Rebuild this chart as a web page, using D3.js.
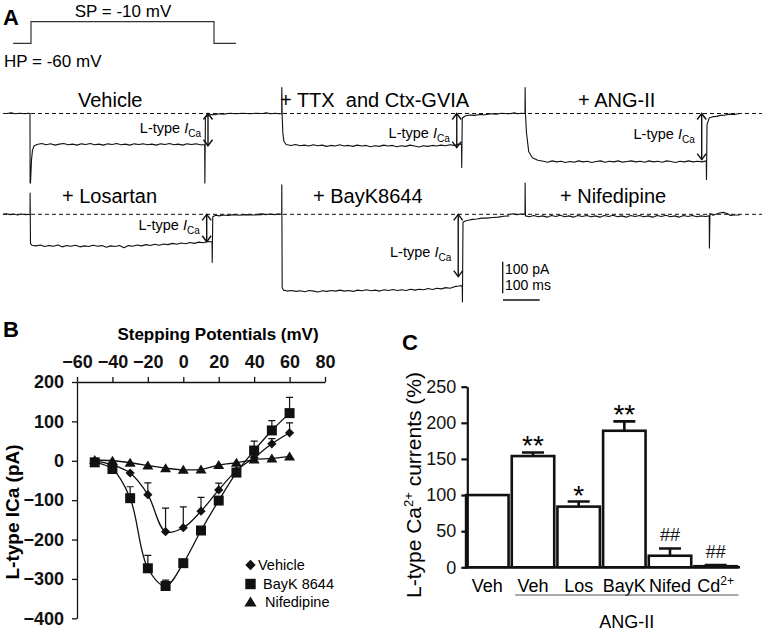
<!DOCTYPE html>
<html><head><meta charset="utf-8">
<script src="https://cdn.jsdelivr.net/npm/d3@7"></script>
<style>body{margin:0;background:#fff} svg{font-family:"Liberation Sans",Arial,Helvetica,sans-serif}</style>
</head><body><svg id="c" width="762" height="632"></svg>
<script>
// ================= DATA =================
// Panel A: voltage protocol (ms, mV)
const protocolTimes = [-49, 0, 0, 500, 500, 560];
const protocolVolts = [-60, -60, -10, -10, -60, -60];
// Panel A: current traces, [time ms from step onset, current pA]
const traceNames = ["Vehicle", "+ TTX  and Ctx-GVIA", "+ ANG-II", "+ Losartan", "+ BayK8644", "+ Nifedipine"];
const traceVehicle = [[-63,0],[-52,2],[-40,-1],[-28,1],[-15,-1],[-5,1],[0,0],[0.3,-220],[1.4,-220],[4.1,-147],[6.8,-116],[10.9,-103],[19,-98],
  [32,-95],[44,-99],[56,-96],[68,-100],[80,-97],[92,-95],[104,-99],[116,-97],[128,-100],[140,-96],[152,-98],[164,-95],[176,-99],[188,-97],
  [200,-100],[212,-96],[224,-98],[236,-95],[248,-99],[260,-97],[272,-100],[284,-96],[296,-98],[308,-96],[320,-99],[332,-97],[344,-100],
  [356,-96],[368,-98],[380,-95],[392,-99],[404,-97],[416,-100],[428,-96],[440,-98],[452,-96],[464,-99],[476,-98],
  [476.5,-220],[478,-12],[486,-6],[494,-3],[505,-4],[515,-1],[528,-2],[545,1],[560,-1],[580,1],[600,-1],[615,1],[632,0]];
const traceTTX = [[-51,0],[-42,2],[-30,-1],[-18,1],[-8,-1],[0,0],[0.3,82],[1.2,-3],[3,-60],[6,-88],[12,-98],
  [25,-101],[38,-98],[50,-102],[62,-100],[74,-103],[86,-99],[98,-102],[110,-100],[122,-104],[134,-101],[146,-103],[158,-99],[170,-103],
  [182,-101],[194,-104],[206,-100],[218,-103],[230,-101],[242,-105],[254,-102],[266,-104],[278,-100],[290,-103],[302,-101],[314,-105],
  [326,-102],[338,-104],[350,-100],[362,-103],[374,-106],[386,-102],[398,-104],[410,-101],[422,-103],[434,-100],[446,-102],[458,-99],
  [470,-101],[480,-97],[490,-96],[490.5,-171],[492,-14],[500,-8],[512,-5],[525,-6],[540,-3],[555,-4],[570,-1],[585,-2],[600,1],[615,-1],[628,0]];
const traceANG = [[-38,0],[-30,2],[-20,-1],[-10,1],[0,0],[0.3,82],[1.2,0],[4,-60],[10,-120],[20,-140],[35,-148],[50,-151],
  [62,-154],[74,-150],[86,-153],[98,-151],[110,-155],[122,-152],[134,-154],[146,-150],[158,-153],[170,-151],[182,-155],[194,-152],
  [206,-150],[218,-154],[230,-151],[242,-153],[254,-150],[266,-154],[278,-152],[290,-150],[302,-153],[314,-151],[326,-154],[338,-150],
  [350,-153],[362,-151],[374,-154],[386,-150],[398,-152],[410,-155],[422,-151],[434,-153],[446,-150],[458,-153],[470,-151],[482,-153],
  [494,-150],[494.5,-209],[496,-35],[502,-14],[512,-10],[522,-9],[532,-6],[545,-5],[558,-2],[570,-3],[585,0]];
const traceLosartan = [[-74,0],[-64,2],[-54,-1],[-44,1],[-34,-2],[-24,1],[-12,-1],[0,0],[0.3,67],[1.3,-92],[5,-98],[16,-100],
  [28,-97],[40,-102],[52,-99],[64,-101],[76,-97],[88,-103],[100,-99],[112,-101],[124,-98],[136,-103],[148,-100],[160,-102],
  [172,-98],[184,-101],[196,-99],[208,-104],[220,-100],[232,-102],[244,-99],[256,-106],[268,-99],[280,-101],[292,-97],[304,-100],
  [316,-96],[328,-99],[340,-95],[352,-98],[364,-94],[376,-96],[388,-92],[400,-95],[412,-91],[424,-93],[436,-89],[448,-92],
  [460,-88],[472,-90],[484,-86],[496,-87],[496.5,-152],[498,-8],[506,-3],[516,-5],[526,-2],[540,-4],[555,-1],[570,-3],[590,-1],[610,-2],[632,-1]];
const traceBayK = [[-65,0],[-55,2],[-44,-1],[-32,1],[-20,-1],[-8,1],[0,0],[0.3,93],[1.3,-232],[5,-240],[15,-243],
  [27,-241],[39,-244],[51,-242],[63,-245],[75,-241],[87,-243],[99,-246],[111,-242],[123,-244],[135,-241],[147,-243],[159,-240],
  [171,-243],[183,-241],[195,-244],[207,-240],[219,-242],[231,-239],[243,-242],[255,-240],[267,-243],[279,-239],[291,-241],
  [303,-238],[315,-241],[327,-239],[339,-241],[351,-237],[363,-240],[375,-237],[387,-239],[399,-235],[411,-238],[423,-234],
  [435,-236],[447,-232],[459,-234],[471,-229],[483,-227],[488,-225],[492,-230],[492.5,-277],[494,-25],[500,-21],[508,-19],
  [520,-16],[532,-15],[545,-12],[560,-12],[575,-10],[590,-9],[605,-6],[620,-5]];
const traceNifed = [[-41,0],[-32,2],[-22,-1],[-12,1],[0,0],[0.3,99],[1.3,-5],[12,-8],[24,-4],[36,-8],[48,-5],[60,-9],[72,-4],
  [84,-7],[96,-3],[108,-8],[120,-5],[132,-9],[144,-4],[156,-7],[168,-4],[180,-8],[192,-5],[204,-9],[216,-4],[228,-7],[240,-3],
  [252,-8],[264,-5],[276,-9],[288,-4],[300,-7],[312,-4],[324,-8],[336,-5],[348,-9],[360,-4],[372,-7],[384,-3],[396,-8],[408,-5],
  [420,-9],[432,-4],[444,-7],[456,-4],[468,-8],[480,-5],[492,-7],[502,-5],[502.5,-107],[504,3],[512,-3],[522,1],[532,5],[542,6],
  [552,2],[560,-4],[570,-2],[585,-2]];
const arrowTimes = [485, 477, 481.5, 481.5, 481, null];
const arrowAmps = [-102, -108, -146, -87, -197, null];
const arrowLabelAmps = [-45, -61, -66, -34, -119, null];
const scaleBarPA = 100, scaleBarMS = 100;

// Panel B: I-V relationship
const bVoltages = [-50,-40,-30,-20,-10,0,10,20,30,40,50,60];
const bVehicle = [0,-10,-31,-86,-180,-170,-128,-74,-25,8,43,71];
const bVehicleErr = [null,null,null,-56,-120,-117,-93,-57,null,null,56,96];
const bBayK = [-4,-21,-95,-273,-318,-260,-177,-101,-30,26,77,121];
const bBayKErr = [null,null,-66,-240,-303,null,null,null,null,50,102,161];
const bNifed = [2,0,-5,-12,-19,-23,-22,-11,-5,3,6,11];
const bXTicks = [-60,-40,-20,0,20,40,60,80];
const bYTicks = [200,100,0,-100,-200,-300,-400];
const bSeriesNames = ["Vehicle", " BayK 8644", "Nifedipine"];

// Panel C: normalized currents (%)
const cCategories = ["Veh","Veh","Los","BayK","Nifed","Cd"];
const cValues = [100,154,84,189,16,1.5];
const cErrors = [0,5,7,13,10,1.5];
const cSignif = ["","**","*","**","##","##"];
const cYTicks = [0,50,100,150,200,250];

// ================= DRAW =================
const svg = d3.select("#c");
const INK = "#111";

// ---------- Panel A ----------
svg.append("text").attr("x",3).attr("y",25).attr("font-size",22).attr("font-weight","bold").text("A");
const pX = d3.scaleLinear().domain([0,500]).range([31,214]);
const pY = d3.scaleLinear().domain([-60,-10]).range([43.3,21.7]);
svg.append("path").datum(d3.zip(protocolTimes, protocolVolts))
  .attr("d", d3.line().x(d=>pX(d[0])).y(d=>pY(d[1])))
  .attr("fill","none").attr("stroke","#333").attr("stroke-width",1.2);
svg.append("text").attr("x",123).attr("y",16.5).attr("text-anchor","middle").attr("font-size",17).text("SP = -10 mV");
svg.append("text").attr("x",4).attr("y",66.5).attr("font-size",17).text("HP = -60 mV");

const colOnsetX = [30, 281.7, 525];
const rowBaseY = [113.5, 214.3];
const titleBaseY = [106.7, 203.3];
const traceCol = [0,1,2,0,1,2];
const traceRow = [0,0,0,1,1,1];
const titleX = [78, 280, 578, 62, 313, 560];
const traceData = [traceVehicle, traceTTX, traceANG, traceLosartan, traceBayK, traceNifed];

rowBaseY.forEach(y => svg.append("line").attr("x1",3).attr("x2",762).attr("y1",y).attr("y2",y)
  .attr("stroke",INK).attr("stroke-width",1).attr("stroke-dasharray","4,3"));

const MSPX = 36.7, PAPX = 31.6; // px per 100 ms / 100 pA
traceData.forEach((pts,i) => {
  const x0 = colOnsetX[traceCol[i]], y0 = rowBaseY[traceRow[i]];
  const tx = d3.scaleLinear().domain([0,100]).range([x0, x0+MSPX]);
  const iy = d3.scaleLinear().domain([0,-100]).range([y0, y0+PAPX]);
  svg.append("path").datum(pts)
    .attr("d", d3.line().x(d=>tx(d[0])).y(d=>iy(d[1])))
    .attr("fill","none").attr("stroke",INK).attr("stroke-width",1.1).attr("stroke-linejoin","round");
  svg.append("text").attr("x",titleX[i]).attr("y",titleBaseY[traceRow[i]])
    .attr("font-size",20).style("white-space","pre").text(traceNames[i]);
  if (arrowTimes[i] != null) {
    const ax = tx(arrowTimes[i]), ya = iy(0), yb = iy(arrowAmps[i]);
    svg.append("line").attr("x1",ax).attr("x2",ax).attr("y1",ya).attr("y2",yb).attr("stroke",INK).attr("stroke-width",1.4);
    svg.append("path").attr("d",`M${ax-4.5},${ya+6}L${ax},${ya}L${ax+4.5},${ya+6}M${ax-4.5},${yb-6}L${ax},${yb}L${ax+4.5},${yb-6}`)
      .attr("fill","none").attr("stroke",INK).attr("stroke-width",1.4);
    const t = svg.append("text").attr("x",ax-7).attr("y",iy(arrowLabelAmps[i])+5)
      .attr("text-anchor","end").attr("font-size",14.5).style("white-space","pre");
    t.append("tspan").text("L-type ");
    t.append("tspan").attr("font-style","italic").text("I");
    t.append("tspan").attr("font-size",10).attr("dy",4).text("Ca");
  }
});
// scale bar
{
  const sx = d3.scaleLinear().domain([0,100]).range([503,503+MSPX]);
  const sy = d3.scaleLinear().domain([0,100]).range([261.7,261.7+PAPX]);
  svg.append("line").attr("x1",502.7).attr("x2",502.7).attr("y1",sy(0)).attr("y2",sy(scaleBarPA)).attr("stroke",INK).attr("stroke-width",1.3);
  svg.append("line").attr("x1",sx(0)).attr("x2",sx(scaleBarMS)).attr("y1",300).attr("y2",300).attr("stroke",INK).attr("stroke-width",1.3);
  svg.append("text").attr("x",505).attr("y",273.5).attr("font-size",14).text(scaleBarPA+" pA");
  svg.append("text").attr("x",505).attr("y",290).attr("font-size",14).text(scaleBarMS+" ms");
}

// ---------- Panel B ----------
svg.append("text").attr("x",3).attr("y",337).attr("font-size",22).attr("font-weight","bold").text("B");
const bx = d3.scaleLinear().domain([-60,80]).range([77,325]);
const by = d3.scaleLinear().domain([-400,200]).range([618.3,382]);
const gX = svg.append("g").attr("transform",`translate(0,${by(200)})`)
  .call(d3.axisTop(bx).tickValues(bXTicks).tickSize(5).tickSizeOuter(0).tickPadding(9));
const gY = svg.append("g").attr("transform",`translate(${bx(-60)},0)`)
  .call(d3.axisLeft(by).tickValues(bYTicks).tickSize(5).tickSizeOuter(0).tickPadding(8));
[gX,gY].forEach(g => {
  g.attr("font-size",18).attr("font-weight","bold").attr("font-family","'Liberation Sans',Arial,sans-serif");
  g.selectAll("path,line").attr("stroke",INK).attr("stroke-width",1.3);
  g.selectAll("text").attr("fill",INK);
});
svg.append("text").attr("x",218).attr("y",339.5).attr("text-anchor","middle").attr("font-size",17).attr("font-weight","bold").text("Stepping Potentials (mV)");
svg.append("text").attr("transform","translate(18.5,512) rotate(-90)").attr("text-anchor","middle")
  .attr("font-size",19).attr("font-weight","bold").text("L-type ICa (pA)");

const diamondPath = r => `M0,${-r}L${r},0L0,${r}L${-r},0Z`;
const squarePath = r => `M${-r},${-r}H${r}V${r}H${-r}Z`;
const trianglePath = r => `M0,${-r}L${r*1.1},${r*0.8}L${-r*1.1},${r*0.8}Z`;
const curve = d3.curveCatmullRom.alpha(0.5);
const bSeries = [
  {vals:bVehicle, err:bVehicleErr, shape:diamondPath(4.6)},
  {vals:bBayK, err:bBayKErr, shape:squarePath(5)},
  {vals:bNifed, err:null, shape:trianglePath(5)}
];
bSeries.forEach(s => {
  const pts = bVoltages.map((v,i)=>[v, s.vals[i]]);
  svg.append("path").datum(pts).attr("d", d3.line().curve(curve).x(d=>bx(d[0])).y(d=>by(d[1])))
    .attr("fill","none").attr("stroke",INK).attr("stroke-width",1.3);
  if (s.err) bVoltages.forEach((v,i) => {
    if (s.err[i] == null) return;
    const x = bx(v);
    svg.append("path").attr("d",`M${x},${by(s.vals[i])}V${by(s.err[i])}M${x-3.5},${by(s.err[i])}H${x+3.5}`)
      .attr("fill","none").attr("stroke",INK).attr("stroke-width",1.2);
  });
});
bSeries.forEach(s => {
  svg.append("g").selectAll("path").data(bVoltages).join("path")
    .attr("transform",(v,i)=>`translate(${bx(v)},${by(s.vals[i])})`).attr("d",s.shape).attr("fill",INK);
});
// legend
const legShapes = [diamondPath(5.2), squarePath(5.2), trianglePath(5.6)];
const legY = [565, 584, 602];
const legTextX = [258, 259, 265];
bSeriesNames.forEach((n,i) => {
  svg.append("path").attr("transform",`translate(250.5,${legY[i]})`).attr("d",legShapes[i]).attr("fill",INK);
  svg.append("text").attr("x",legTextX[i]).attr("y",legY[i]+5.2).attr("font-size",14.5).style("white-space","pre").text(n);
});

// ---------- Panel C ----------
svg.append("text").attr("x",402).attr("y",350).attr("font-size",22).attr("font-weight","bold").text("C");
const cx = d3.scaleBand().domain(d3.range(cCategories.length)).range([464.5,738.5]).paddingInner(0);
const cy = d3.scaleLinear().domain([0,250]).range([567.3,386.7]);
const bw = cx.bandwidth();
svg.append("g").selectAll("rect").data(cValues).join("rect")
  .attr("x",(d,i)=>cx(i)+1.6).attr("width",bw-3.2)
  .attr("y",d=>cy(d)).attr("height",d=>cy(0)-cy(d))
  .attr("fill","#fff").attr("stroke",INK).attr("stroke-width",2.6);
cValues.forEach((v,i) => {
  if (!cErrors[i]) return;
  const x = cx(i)+bw/2, yt = cy(v+cErrors[i]);
  svg.append("path").attr("d",`M${x},${cy(v)}V${yt}M${x-11},${yt}H${x+11}`)
    .attr("fill","none").attr("stroke",INK).attr("stroke-width",2.6);
  const s = cSignif[i];
  if (s.startsWith("*"))
    svg.append("text").attr("x",x).attr("y",yt+3).attr("text-anchor","middle").attr("font-size",28).text(s);
  else if (s)
    svg.append("text").attr("x",x).attr("y",yt-7.5).attr("text-anchor","middle").attr("font-size",18).attr("fill",INK).text(s);
});
const gCY = svg.append("g").attr("transform","translate(467.3,0)")
  .call(d3.axisLeft(cy).tickValues(cYTicks).tickSize(6).tickSizeOuter(0).tickPadding(5));
gCY.attr("font-size",18).attr("font-family","'Liberation Sans',Arial,sans-serif");
gCY.selectAll("path,line").attr("stroke",INK).attr("stroke-width",2.2);
gCY.selectAll("text").attr("fill",INK);
svg.append("line").attr("x1",466.2).attr("x2",740).attr("y1",cy(0)).attr("y2",cy(0)).attr("stroke",INK).attr("stroke-width",2.6);
cCategories.forEach((c,i) => {
  const t = svg.append("text").attr("x",cx(i)+bw/2).attr("y",591.7).attr("text-anchor","middle").attr("font-size",18);
  t.append("tspan").text(c);
  if (c === "Cd") t.append("tspan").attr("font-size",12).attr("dy",-7).text("2+");
});
svg.append("line").attr("x1",cx(1)+5).attr("x2",cx(5)+bw).attr("y1",595).attr("y2",595).attr("stroke","#555").attr("stroke-width",1);
svg.append("text").attr("x",(cx(1)+5+cx(5)+bw)/2).attr("y",628.3).attr("text-anchor","middle").attr("font-size",18).text("ANG-II");
{
  const t = svg.append("text").attr("transform","translate(421,485) rotate(-90)").attr("text-anchor","middle").attr("font-size",21);
  t.append("tspan").text("L-type Ca");
  t.append("tspan").attr("font-size",13).attr("dy",-8).text("2+");
  t.append("tspan").attr("dy",8).text(" currents (%)");
}
</script></body></html>
